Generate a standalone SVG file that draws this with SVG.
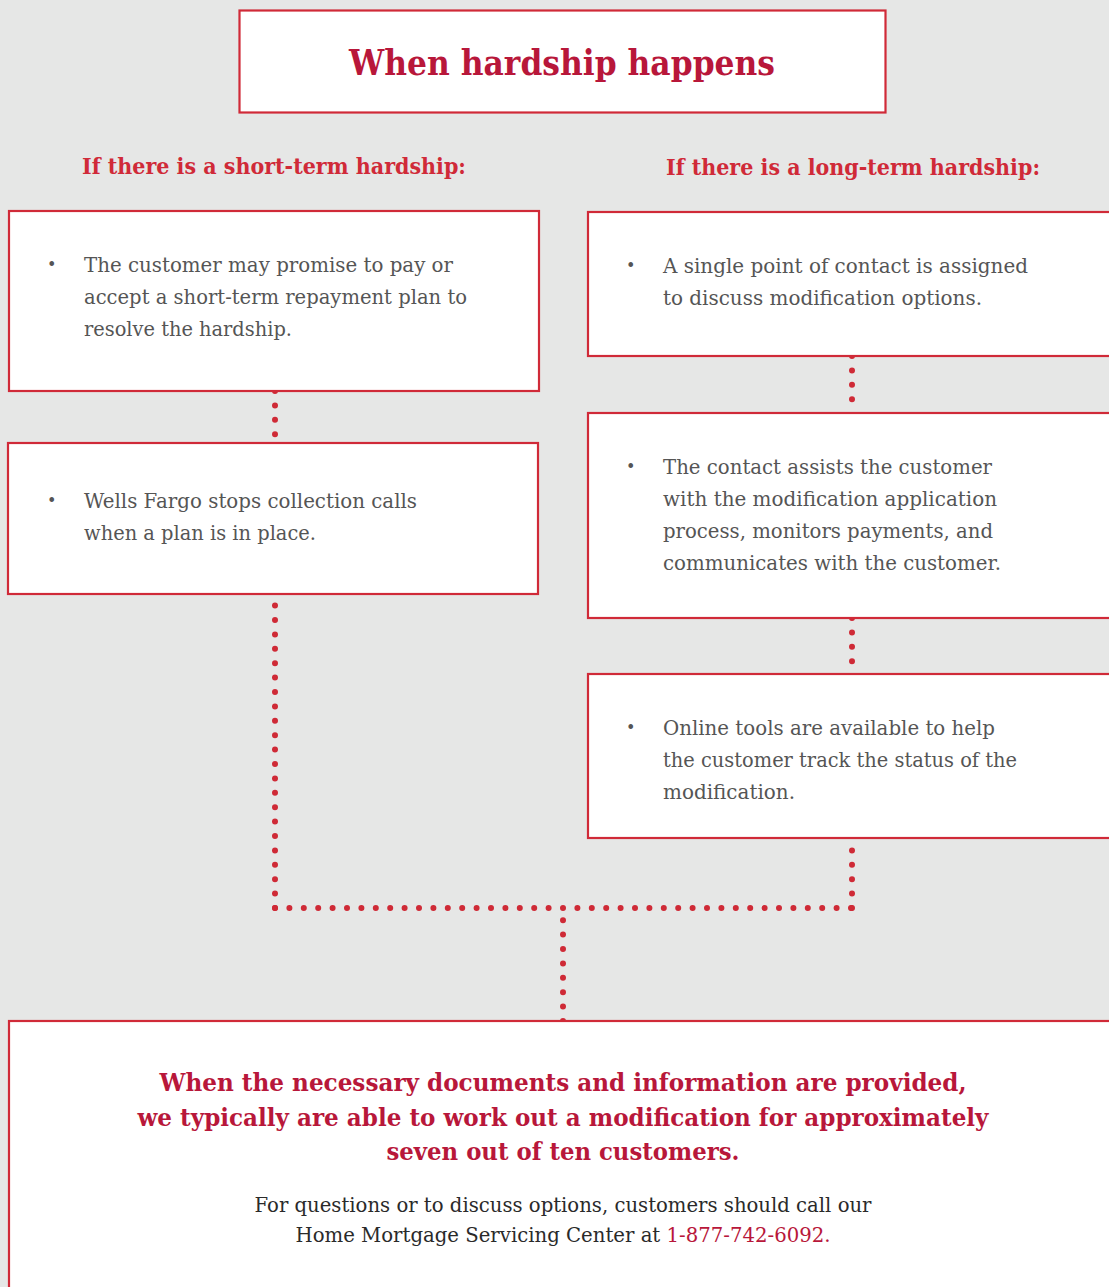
<svg xmlns="http://www.w3.org/2000/svg" width="1109" height="1287" viewBox="0 0 1109 1287">
<style>
.box{fill:#ffffff;stroke:#d02a38;stroke-width:2.2}
.title{font-family:"DejaVu Serif","Liberation Serif",serif;font-weight:bold;fill:#b8173a;font-size:36px;text-anchor:middle}
.head{font-family:"DejaVu Serif","Liberation Serif",serif;font-weight:bold;fill:#d02a38;font-size:22px;text-anchor:middle}
.body{font-family:"DejaVu Serif","Liberation Serif",serif;fill:#555555;font-size:20px}
.bul{font-family:"DejaVu Serif","Liberation Serif",serif;fill:#555555;font-size:16px}
.big{font-family:"DejaVu Serif","Liberation Serif",serif;font-weight:bold;fill:#b8173a;font-size:25px;text-anchor:middle}
.foot{font-family:"DejaVu Serif","Liberation Serif",serif;fill:#2a2a2a;font-size:20px;text-anchor:middle}
.red{fill:#b8173a}
.dots{fill:none;stroke:#cf2a36;stroke-width:6;stroke-linecap:round;stroke-dasharray:0 14.4}
</style>
<rect x="0" y="0" width="1109" height="1287" fill="#e6e7e6"/>

<g id="connectors">
<line class="dots" x1="275" y1="391" x2="275" y2="443"/>
<line class="dots" x1="275" y1="908" x2="275" y2="596"/>
<line class="dots" x1="852" y1="356" x2="852" y2="413"/>
<line class="dots" x1="852" y1="618" x2="852" y2="674"/>
<line class="dots" x1="852" y1="908" x2="852" y2="840"/>
<line class="dots" x1="275" y1="908" x2="852" y2="908"/>
<line class="dots" x1="563" y1="1021" x2="563" y2="906"/>
</g>

<g id="title">
<rect class="box" x="239.5" y="10.5" width="646" height="102"/>
<text class="title" x="562" y="75" textLength="426" lengthAdjust="spacingAndGlyphs">When hardship happens</text>
</g>

<g id="heading-short">
<text class="head" x="274" y="174" textLength="384" lengthAdjust="spacingAndGlyphs">If there is a short-term hardship:</text>
</g>
<g id="heading-long">
<text class="head" x="853" y="175" textLength="374" lengthAdjust="spacingAndGlyphs">If there is a long-term hardship:</text>
</g>

<g id="short-1">
<rect class="box" x="9" y="211" width="530" height="180"/>
<text class="bul" x="47" y="270">•</text>
<text class="body" x="84" y="272" textLength="369" lengthAdjust="spacingAndGlyphs">The customer may promise to pay or</text>
<text class="body" x="84" y="304" textLength="383" lengthAdjust="spacingAndGlyphs">accept a short-term repayment plan to</text>
<text class="body" x="84" y="336" textLength="208" lengthAdjust="spacingAndGlyphs">resolve the hardship.</text>
</g>

<g id="short-2">
<rect class="box" x="8" y="443" width="530" height="151"/>
<text class="bul" x="47" y="506">•</text>
<text class="body" x="84" y="508" textLength="333" lengthAdjust="spacingAndGlyphs">Wells Fargo stops collection calls</text>
<text class="body" x="84" y="540" textLength="232" lengthAdjust="spacingAndGlyphs">when a plan is in place.</text>
</g>

<g id="long-1">
<rect class="box" x="588" y="212" width="530" height="144"/>
<text class="bul" x="626" y="271">•</text>
<text class="body" x="663" y="273" textLength="365" lengthAdjust="spacingAndGlyphs">A single point of contact is assigned</text>
<text class="body" x="663" y="305" textLength="319" lengthAdjust="spacingAndGlyphs">to discuss modification options.</text>
</g>

<g id="long-2">
<rect class="box" x="588" y="413" width="530" height="205"/>
<text class="bul" x="626" y="472">•</text>
<text class="body" x="663" y="474" textLength="329" lengthAdjust="spacingAndGlyphs">The contact assists the customer</text>
<text class="body" x="663" y="506" textLength="334" lengthAdjust="spacingAndGlyphs">with the modification application</text>
<text class="body" x="663" y="538" textLength="330" lengthAdjust="spacingAndGlyphs">process, monitors payments, and</text>
<text class="body" x="663" y="570" textLength="338" lengthAdjust="spacingAndGlyphs">communicates with the customer.</text>
</g>

<g id="long-3">
<rect class="box" x="588" y="674" width="530" height="164"/>
<text class="bul" x="626" y="733">•</text>
<text class="body" x="663" y="735" textLength="332" lengthAdjust="spacingAndGlyphs">Online tools are available to help</text>
<text class="body" x="663" y="767" textLength="354" lengthAdjust="spacingAndGlyphs">the customer track the status of the</text>
<text class="body" x="663" y="799" textLength="132" lengthAdjust="spacingAndGlyphs">modification.</text>
</g>

<g id="outcome">
<rect class="box" x="9" y="1021" width="1110" height="280"/>
<text class="big" x="563" y="1091" textLength="807" lengthAdjust="spacingAndGlyphs">When the necessary documents and information are provided,</text>
<text class="big" x="563" y="1126" textLength="851" lengthAdjust="spacingAndGlyphs">we typically are able to work out a modification for approximately</text>
<text class="big" x="563" y="1160" textLength="353" lengthAdjust="spacingAndGlyphs">seven out of ten customers.</text>
<text class="foot" x="563" y="1212" textLength="617" lengthAdjust="spacingAndGlyphs">For questions or to discuss options, customers should call our</text>
<text class="foot" x="563" y="1242" textLength="535" lengthAdjust="spacingAndGlyphs">Home Mortgage Servicing Center at <tspan class="red">1-877-742-6092.</tspan></text>
</g>
</svg>
